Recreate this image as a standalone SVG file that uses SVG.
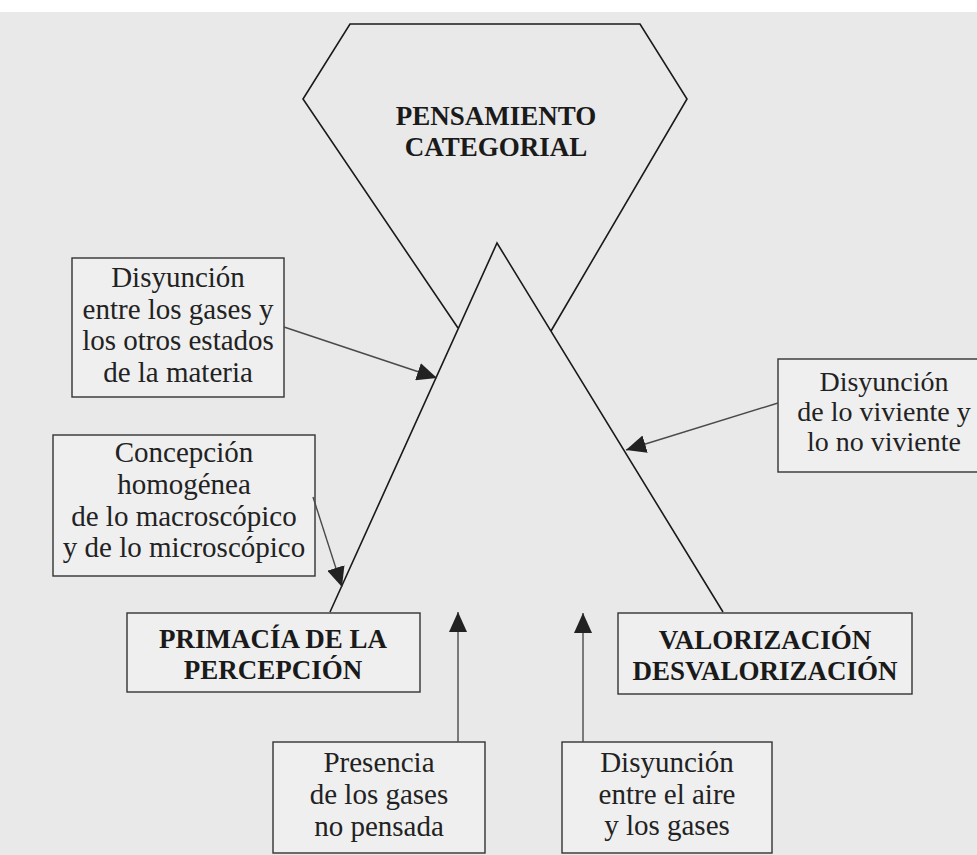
<svg xmlns="http://www.w3.org/2000/svg" width="977" height="855" viewBox="0 0 977 855">
<defs>
<style>
.bg{fill:#e9e9e9}
.box{fill:#efefef;stroke:#333;stroke-width:1.4}
.fig{fill:none;stroke:#1a1a1a;stroke-width:1.6;stroke-linejoin:miter}
.con{fill:none;stroke:#4a4a4a;stroke-width:1.4}
.t{font-family:"Liberation Serif","Times New Roman",serif;font-size:29px;fill:#222;text-anchor:middle}
.s{font-size:28px}
.b{font-family:"Liberation Serif","Times New Roman",serif;font-size:27px;font-weight:bold;fill:#1a1a1a;text-anchor:middle}
</style>
<marker id="ah" viewBox="0 0 20 18" refX="20" refY="9" markerWidth="20" markerHeight="18" markerUnits="userSpaceOnUse" orient="auto">
<path d="M0,0 L20,9 L0,18 z" fill="#222"/>
</marker>
</defs>
<rect class="bg" x="0" y="0" width="977" height="855"/>
<rect x="0" y="0" width="977" height="12" fill="#ffffff"/>

<g id="pensamiento-categorial">
<path class="fig" d="M458,328 L303,99 L350,24 L640,24 L687,99 L551,331"/>
<path class="fig" d="M330,612 L497,243 L723,612"/>
<text class="b" x="496" y="125">PENSAMIENTO</text>
<text class="b" x="496" y="156">CATEGORIAL</text>
</g>

<g id="disyuncion-gases">
<rect class="box" x="72" y="258" width="212" height="139"/>
<text class="t"><tspan x="178" y="287">Disyunción</tspan><tspan x="178" y="318.5">entre los gases y</tspan><tspan x="178" y="350">los otros estados</tspan><tspan x="178" y="381.5">de la materia</tspan></text>
</g>

<g id="disyuncion-viviente">
<rect class="box" x="778" y="359" width="215" height="113"/>
<text class="t s"><tspan x="884" y="391">Disyunción</tspan><tspan x="884" y="421">de lo viviente y</tspan><tspan x="884" y="451">lo no viviente</tspan></text>
</g>

<g id="concepcion">
<rect class="box" x="53" y="435" width="262" height="141"/>
<text class="t"><tspan x="184" y="462">Concepción</tspan><tspan x="184" y="494">homogénea</tspan><tspan x="184" y="525.5">de lo macroscópico</tspan><tspan x="184" y="557">y de lo microscópico</tspan></text>
</g>

<g id="primacia">
<rect class="box" x="127" y="613" width="293" height="79"/>
<text class="b"><tspan x="273" y="648">PRIMACÍA DE LA</tspan><tspan x="273" y="679">PERCEPCIÓN</tspan></text>
</g>

<g id="valorizacion">
<rect class="box" x="618" y="613" width="294" height="81"/>
<text class="b"><tspan x="765" y="649">VALORIZACIÓN</tspan><tspan x="765" y="680">DESVALORIZACIÓN</tspan></text>
</g>

<g id="presencia">
<rect class="box" x="273" y="742" width="212" height="111"/>
<text class="t"><tspan x="379" y="772">Presencia</tspan><tspan x="379" y="804">de los gases</tspan><tspan x="379" y="836">no pensada</tspan></text>
</g>

<g id="disyuncion-aire">
<rect class="box" x="562" y="742" width="210" height="111"/>
<text class="t"><tspan x="667" y="772">Disyunción</tspan><tspan x="667" y="803.5">entre el aire</tspan><tspan x="667" y="835">y los gases</tspan></text>
</g>

<g id="connectors">
<path class="con" d="M284,327 L437,378" marker-end="url(#ah)"/>
<path class="con" d="M778,403 L626,450" marker-end="url(#ah)"/>
<path class="con" d="M313,497 L342,587" marker-end="url(#ah)"/>
<path class="con" d="M458,742 L458,612" marker-end="url(#ah)"/>
<path class="con" d="M583,742 L583,613" marker-end="url(#ah)"/>
</g>
</svg>
